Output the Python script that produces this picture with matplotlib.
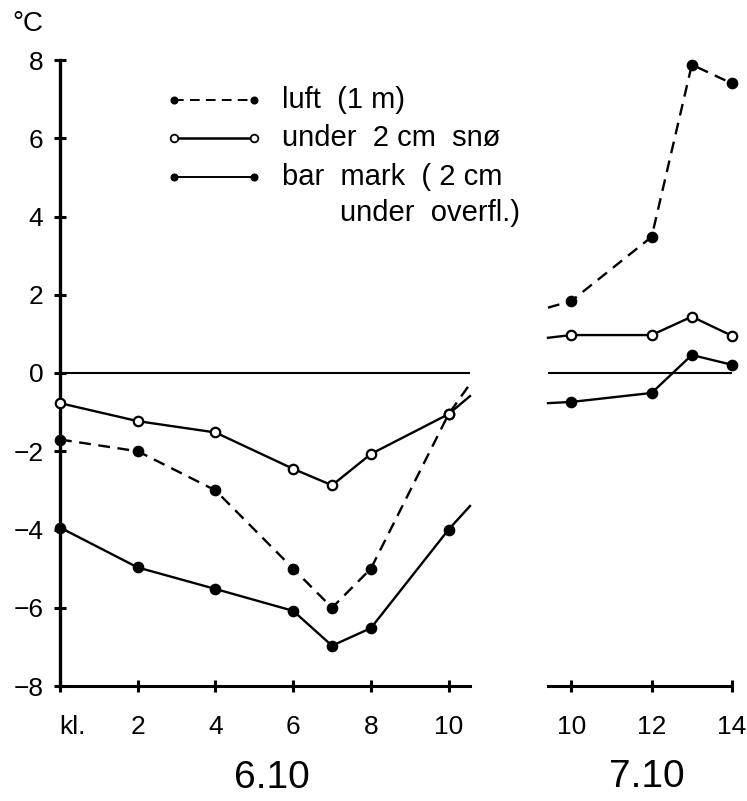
import matplotlib
matplotlib.use("Agg")
import matplotlib.pyplot as plt
from matplotlib.lines import Line2D
from matplotlib.transforms import ScaledTranslation

plt.rcParams['font.family'] = ['Liberation Sans', 'DejaVu Sans']

# ---- data ----
hours_6 = [0, 2, 4, 6, 7, 8, 10]
tick_labels_6 = ['kl.', '2', '4', '6', '8', '10']
ticks_6 = [0, 2, 4, 6, 8, 10]
luft_6 = [-1.7, -2.0, -3.0, -5.0, -6.0, -5.0, -1.05]
sno_6 = [-0.77, -1.23, -1.52, -2.45, -2.87, -2.07, -1.05]
bar_6 = [-3.95, -4.97, -5.52, -6.08, -6.97, -6.52, -4.0]
# lines continue to the right edge of the first panel
edge_x_6 = 10.55
luft_edge_6 = -0.28
sno_edge_6 = -0.59
bar_edge_6 = -3.4

hours_7 = [10, 12, 13, 14]
ticks_7 = [10, 12, 14]
luft_7 = [1.84, 3.48, 7.88, 7.4]
sno_7 = [0.97, 0.97, 1.44, 0.95]
bar_7 = [-0.74, -0.51, 0.46, 0.21]
# lines come in from the left edge of the second panel
edge_x_7 = 9.42
luft_edge_7 = 1.67
sno_edge_7 = 0.9
bar_edge_7 = -0.77

yticks = [-8, -6, -4, -2, 0, 2, 4, 6, 8]

W, H = 747, 801
fig = plt.figure(figsize=(W / 100, H / 100), dpi=100)

y0, y1 = 686, 60
axL = fig.add_axes([60 / W, (H - y0) / H, 410 / W, (y0 - y1) / H])
axR = fig.add_axes([548 / W, (H - y0) / H, 184 / W, (y0 - y1) / H])

lw = 1.7
dash = (0, (5, 3.2))
ms = 6.8

def draw(ax, xs, ys, style, filled, edge_first=None, edge_last=None):
    x = list(xs)
    y = list(ys)
    if edge_first is not None:
        x = [edge_first[0]] + x
        y = [edge_first[1]] + y
        mk = list(range(1, len(x)))
    else:
        x = x + [edge_last[0]]
        y = y + [edge_last[1]]
        mk = list(range(0, len(x) - 1))
    ax.plot(x, y, linestyle=style, color='black', lw=lw, marker='o',
            markevery=mk, markersize=ms,
            markerfacecolor='black' if filled else 'white',
            markeredgecolor='black', markeredgewidth=1.6,
            clip_on=False, zorder=3)

# left panel
draw(axL, hours_6, luft_6, dash, True, edge_last=(edge_x_6, luft_edge_6))
draw(axL, hours_6, sno_6, '-', False, edge_last=(edge_x_6, sno_edge_6))
draw(axL, hours_6, bar_6, '-', True, edge_last=(edge_x_6, bar_edge_6))
axL.axhline(0, color='black', lw=1.5, zorder=2)

# right panel
draw(axR, hours_7, luft_7, dash, True, edge_first=(edge_x_7, luft_edge_7))
draw(axR, hours_7, sno_7, '-', False, edge_first=(edge_x_7, sno_edge_7))
draw(axR, hours_7, bar_7, '-', True, edge_first=(edge_x_7, bar_edge_7))
axR.axhline(0, color='black', lw=1.5, zorder=2)

for ax in (axL, axR):
    ax.set_ylim(-8, 8)
    for s in ('top', 'right'):
        ax.spines[s].set_visible(False)
    ax.spines['bottom'].set_linewidth(2.2)
    ax.spines['left'].set_linewidth(2.4)
    ax.tick_params(axis='both', direction='inout', length=8, width=2.2,
                   colors='black')
    ax.tick_params(axis='x', pad=17, labelsize=19)
    ax.tick_params(axis='y', pad=8, labelsize=19)

axL.set_xlim(0, edge_x_6)
axL.set_xticks(ticks_6)
axL.set_xticklabels(tick_labels_6)
axL.set_yticks(yticks)
axL.set_yticklabels([str(v).replace('-', '\u2212') for v in yticks])
kl = axL.get_xticklabels()[0]
kl.set_horizontalalignment('left')
kl.set_transform(kl.get_transform() + ScaledTranslation(-1 / 100, 0, fig.dpi_scale_trans))

axR.set_xlim(edge_x_7, 14)
axR.set_xticks(ticks_7)
axR.set_xticklabels([str(t) for t in ticks_7])
axR.spines['left'].set_visible(False)
axR.set_yticks([])

# date labels
fig.text(272 / W, 1 - 778 / H, '6.10', ha='center', va='center', fontsize=28)
fig.text(647 / W, 1 - 777 / H, '7.10', ha='center', va='center', fontsize=28)
fig.text(28 / W, 1 - 24 / H, '°C', ha='center', va='center', fontsize=20)

# legend (drawn manually in figure pixel coords)
def fx(px):
    return px / W

def fy(py):
    return 1 - py / H

legend_rows = [
    (100, dash, True, 'luft  (1 m)'),
    (138, '-', False, 'under  2 cm  snø'),
    (177, '-', True, 'bar  mark  ( 2 cm'),
]
for py, style, filled, label in legend_rows:
    fig.add_artist(Line2D([fx(174), fx(254)], [fy(py), fy(py)], linestyle=style,
                          color='black', lw=1.8 if (style == '-' and not filled) else 1.4,
                          transform=fig.transFigure))
    for px in (174, 254):
        fig.add_artist(Line2D([fx(px)], [fy(py)], marker='o', markersize=4.5 if filled else 5.5,
                              markerfacecolor='black' if filled else 'white',
                              markeredgecolor='black', markeredgewidth=1.3,
                              transform=fig.transFigure))
    fig.text(fx(282), fy(py), label, ha='left', va='center', fontsize=21)
fig.text(fx(340), fy(213), 'under  overfl.)', ha='left', va='center', fontsize=21)

fig.savefig('out.png', dpi=100, facecolor='white')
